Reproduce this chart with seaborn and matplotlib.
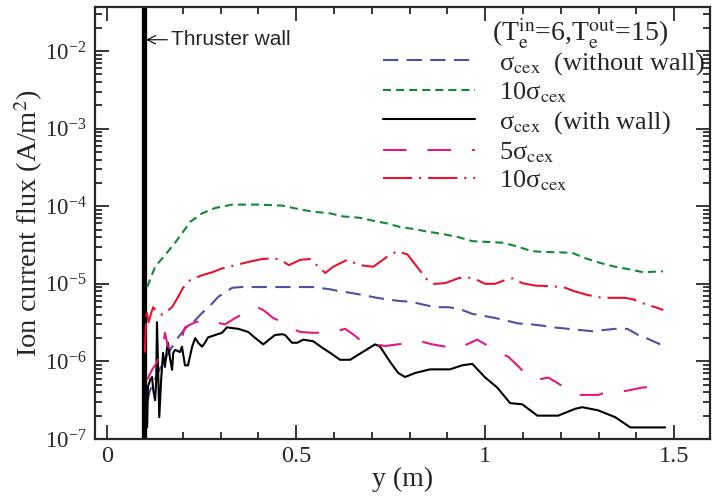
import numpy as np
import pandas as pd
import matplotlib
matplotlib.use("Agg")
import matplotlib.pyplot as plt
from matplotlib.ticker import LogLocator, NullFormatter, MultipleLocator, FixedLocator, FixedFormatter
import seaborn as sns

sns.set_theme(style="ticks")
plt.rcParams["font.family"] = ["Liberation Serif", "DejaVu Serif"]
plt.rcParams["mathtext.fontset"] = "stix"
plt.rcParams["lines.scale_dashes"] = False
plt.rcParams["axes.linewidth"] = 1.6

wall_y = 0.097

# sigma_cex, without wall
x_blue = [0.106, 0.114, 0.140, 0.167, 0.188, 0.206, 0.233, 0.251, 0.278, 0.294, 0.331, 0.357,
          0.399, 0.463, 0.545, 0.590, 0.611, 0.648, 0.675, 0.714, 0.741, 0.775, 0.802, 0.836,
          0.868, 0.902, 0.929, 0.966, 0.992, 1.026, 1.053, 1.087, 1.124, 1.153, 1.180, 1.220,
          1.283, 1.344, 1.376, 1.405, 1.431, 1.463, 1.476]
y_blue = [3.0e-7, 4.3e-7, 8.1e-7, 1.41e-6, 2.04e-6, 2.63e-6, 3.39e-6, 4.2e-6, 5.6e-6, 6.8e-6, 8.9e-6, 9.1e-6,
          9.1e-6, 9.1e-6, 9.1e-6, 8.5e-6, 8.1e-6, 7.6e-6, 7.2e-6, 6.6e-6, 6.3e-6, 6.0e-6, 5.9e-6, 5.4e-6,
          5.0e-6, 5.0e-6, 4.8e-6, 4.1e-6, 3.9e-6, 3.63e-6, 3.39e-6, 3.09e-6, 3.0e-6, 2.88e-6, 2.75e-6, 2.63e-6,
          2.45e-6, 2.63e-6, 2.63e-6, 2.19e-6, 1.95e-6, 1.66e-6, 1.62e-6]

# 10 sigma_cex, without wall
x_green = [0.106, 0.127, 0.153, 0.180, 0.198, 0.220, 0.251, 0.286, 0.331, 0.399, 0.463, 0.511,
           0.545, 0.590, 0.624, 0.669, 0.704, 0.741, 0.775, 0.810, 0.849, 0.886, 0.929, 0.966,
           1.005, 1.045, 1.079, 1.124, 1.167, 1.230, 1.265, 1.304, 1.344, 1.378, 1.418, 1.470]
y_green = [9.1e-6, 1.66e-5, 2.34e-5, 3.39e-5, 4.47e-5, 6.3e-5, 8.1e-5, 9.5e-5, 1.05e-4, 1.05e-4, 1.02e-4, 9.1e-5,
           8.5e-5, 8.1e-5, 7.4e-5, 7.1e-5, 6.5e-5, 6.0e-5, 5.4e-5, 5.1e-5, 4.7e-5, 4.4e-5, 4.0e-5, 3.55e-5,
           3.47e-5, 3.39e-5, 3.09e-5, 2.63e-5, 2.57e-5, 2.51e-5, 2.14e-5, 1.86e-5, 1.66e-5, 1.55e-5, 1.41e-5, 1.45e-5]

# sigma_cex, with wall
x_black = [0.106, 0.108, 0.114, 0.119, 0.122, 0.127, 0.130, 0.132, 0.138, 0.143, 0.148, 0.153,
           0.159, 0.161, 0.167, 0.172, 0.175, 0.180, 0.193, 0.198, 0.206, 0.214, 0.225, 0.233,
           0.241, 0.251, 0.259, 0.267, 0.286, 0.304, 0.317, 0.331, 0.347, 0.373, 0.392, 0.413,
           0.444, 0.463, 0.471, 0.489, 0.503, 0.519, 0.545, 0.571, 0.590, 0.616, 0.643, 0.669,
           0.709, 0.722, 0.749, 0.770, 0.788, 0.815, 0.854, 0.907, 0.939, 0.966, 1.000, 1.032,
           1.066, 1.098, 1.138, 1.193, 1.238, 1.257, 1.299, 1.344, 1.384, 1.476]
y_black = [1.41e-7, 4.7e-7, 5.8e-7, 6.3e-7, 4.3e-7, 3.16e-7, 5.8e-7, 3.2e-6, 1.91e-7, 5.8e-7, 1.29e-6, 8.5e-7,
           1.55e-6, 1.74e-6, 1.05e-6, 7.8e-7, 1.29e-6, 1.41e-6, 1.32e-6, 1.55e-6, 8.9e-7, 8.9e-7, 1.55e-6, 2.0e-6,
           1.74e-6, 1.55e-6, 1.74e-6, 2.04e-6, 2.19e-6, 2.34e-6, 2.75e-6, 2.69e-6, 2.63e-6, 2.40e-6, 2.0e-6, 1.66e-6,
           2.19e-6, 2.24e-6, 2.19e-6, 1.74e-6, 1.74e-6, 1.91e-6, 1.82e-6, 1.48e-6, 1.29e-6, 1.05e-6, 1.05e-6, 1.26e-6,
           1.66e-6, 1.55e-6, 9.8e-7, 7.1e-7, 6.3e-7, 7.1e-7, 7.9e-7, 7.9e-7, 8.9e-7, 9.3e-7, 6.2e-7, 4.6e-7,
           2.9e-7, 2.8e-7, 2.0e-7, 2.0e-7, 2.45e-7, 2.57e-7, 2.34e-7, 1.91e-7, 1.41e-7, 1.41e-7]

# 5 sigma_cex, with wall
x_pink = [0.106, 0.119, 0.132, 0.140, 0.148, 0.153, 0.161, 0.172, 0.188, 0.198, 0.206, 0.233,
          0.259, 0.286, 0.312, 0.339, 0.365, 0.392, 0.413, 0.439, 0.466, 0.484, 0.511, 0.542,
          0.571, 0.598, 0.630, 0.656, 0.677, 0.690, 0.722, 0.735, 0.770, 0.802, 0.836, 0.860,
          0.894, 0.921, 0.947, 0.979, 1.008, 1.034, 1.061, 1.085, 1.111, 1.138, 1.167, 1.193,
          1.220, 1.246, 1.299, 1.312, 1.376, 1.415, 1.442]
y_pink = [5.8e-7, 7.8e-7, 9.8e-7, 1.29e-6, 1.55e-6, 2.34e-6, 1.55e-6, 1.41e-6, 1.55e-6, 2.04e-6, 2.75e-6, 3.2e-6,
          3.39e-6, 3.2e-6, 3.0e-6, 3.63e-6, 4.2e-6, 5.1e-6, 4.6e-6, 3.63e-6, 3.2e-6, 2.69e-6, 2.40e-6, 2.34e-6,
          2.34e-6, 2.40e-6, 2.63e-6, 2.14e-6, 1.74e-6, 1.58e-6, 1.62e-6, 1.58e-6, 1.66e-6, 1.74e-6, 1.78e-6, 1.66e-6,
          1.55e-6, 1.48e-6, 1.62e-6, 1.91e-6, 1.58e-6, 1.32e-6, 1.15e-6, 8.9e-7, 6.6e-7, 5.8e-7, 6.2e-7, 5.2e-7,
          4.3e-7, 3.7e-7, 3.7e-7, 3.9e-7, 4.2e-7, 4.6e-7, 4.7e-7]

# 10 sigma_cex, with wall
x_red = [0.100, 0.104, 0.110, 0.116, 0.122, 0.130, 0.146, 0.172, 0.188, 0.201, 0.220, 0.251,
         0.278, 0.304, 0.339, 0.373, 0.410, 0.444, 0.468, 0.481, 0.511, 0.537, 0.564, 0.577,
         0.598, 0.635, 0.669, 0.704, 0.741, 0.767, 0.794, 0.810, 0.847, 0.865, 0.894, 0.929,
         0.947, 0.974, 1.000, 1.026, 1.053, 1.074, 1.098, 1.132, 1.177, 1.212, 1.233, 1.270,
         1.310, 1.370, 1.392, 1.418, 1.450, 1.471]
y_red = [1.3e-6, 4.6e-6, 3.2e-6, 4.1e-6, 5.0e-6, 4.4e-6, 4.0e-6, 5.0e-6, 6.8e-6, 8.9e-6, 1.12e-5, 1.29e-5,
         1.41e-5, 1.58e-5, 1.74e-5, 1.91e-5, 2.09e-5, 2.14e-5, 1.91e-5, 1.74e-5, 2.04e-5, 2.09e-5, 1.58e-5, 1.38e-5,
         1.66e-5, 2.04e-5, 1.74e-5, 1.66e-5, 2.24e-5, 2.63e-5, 2.40e-5, 1.91e-5, 1.12e-5, 1.0e-5, 1.02e-5, 1.18e-5,
         1.23e-5, 1.15e-5, 1.0e-5, 1.0e-5, 1.12e-5, 1.18e-5, 1.02e-5, 9.5e-6, 9.3e-6, 8.9e-6, 8.1e-6, 7.2e-6,
         6.6e-6, 6.6e-6, 6.3e-6, 5.6e-6, 5.0e-6, 4.6e-6]

x_ticks = [0, 0.5, 1, 1.5]
x_tick_labels = ["0", "0.5", "1", "1.5"]

series = [
    (x_blue, y_blue, "#4f4fa3", (0, (11, 6)), "σ$_{\\rm cex}$  (without wall)"),
    (x_green, y_green, "#128a35", (0, (5.8, 3.6)), "10σ$_{\\rm cex}$"),
    (x_black, y_black, "black", "-", "σ$_{\\rm cex}$  (with wall)"),
    (x_pink, y_pink, "#e5197e", (0, (17, 15)), "5σ$_{\\rm cex}$"),
    (x_red, y_red, "#e8122f", (0, (21, 5, 1.5, 5)), "10σ$_{\\rm cex}$"),
]

fig = plt.figure(figsize=(7.12, 4.97), dpi=100)
ax = fig.add_axes([0.1334, 0.1167, 0.864, 0.869])

ax.axvline(wall_y, color="black", lw=3.8, zorder=1)

for xs, ys, col, ls, lab in series:
    df = pd.DataFrame({"y": xs, "flux": ys})
    sns.lineplot(data=df, x="y", y="flux", ax=ax, color=col, linestyle=ls,
                 lw=1.5, label=lab, estimator=None, sort=False, zorder=3)

ax.set_yscale("log")
ax.set_xlim(-0.032, 1.595)
ax.set_ylim(1e-7, 3.69e-2)

ax.xaxis.set_major_locator(FixedLocator(x_ticks))
ax.xaxis.set_major_formatter(FixedFormatter(x_tick_labels))
ax.xaxis.set_minor_locator(MultipleLocator(0.1))
ax.yaxis.set_major_locator(LogLocator(base=10, numticks=10))
ax.yaxis.set_minor_locator(LogLocator(base=10, subs=np.arange(2, 10), numticks=10))
ax.yaxis.set_minor_formatter(NullFormatter())
ax.tick_params(which="both", direction="in", top=True, right=True, width=1.3)
ax.tick_params(which="major", length=10)
ax.tick_params(which="minor", length=5)
ax.tick_params(axis="x", labelsize=17.5, pad=5)
ax.tick_params(axis="y", labelsize=16.5, pad=6)

ax.set_xlabel("y (m)", fontsize=20, labelpad=0)
ax.set_ylabel("Ion current flux (A/m$^2$)", fontsize=20.5, labelpad=0)

ax.annotate("Thruster wall", xy=(wall_y + 0.006, 1.4e-2), xytext=(0.168, 1.4e-2),
            fontsize=15, family="Liberation Sans", va="center",
            arrowprops=dict(arrowstyle="->", color="black", lw=0.8, shrinkA=0, shrinkB=0))

ax.text(0.6455, 0.937, "(T$_{\\rm e}^{\\rm in}$=6,T$_{\\rm e}^{\\rm out}$=15)",
        transform=ax.transAxes, fontsize=20, va="center", ha="left")

leg = ax.legend(loc="upper left", bbox_to_anchor=(0.468, 0.901), frameon=False, fontsize=19,
                handlelength=3.5, handletextpad=0.9, labelspacing=0.15,
                borderpad=0, borderaxespad=0)

fig.savefig("out.png", dpi=100)
